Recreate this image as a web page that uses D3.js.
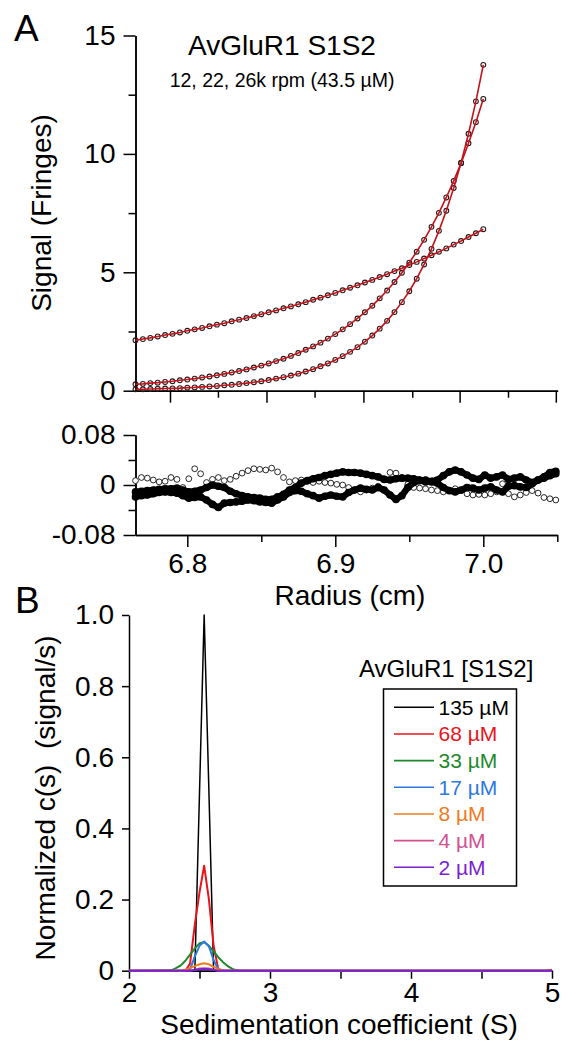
<!DOCTYPE html>
<html><head><meta charset="utf-8">
<script src="https://cdn.jsdelivr.net/npm/d3@7"></script>
<style>
html,body{margin:0;padding:0;background:#fff;}
svg{display:block;font-family:"Liberation Sans",Arial,Helvetica,sans-serif;}
</style></head>
<body><svg id="c" width="577" height="1048"></svg>
<script>
// ---------- Panel A: equilibrium data (signal in fringes vs radius) ----------
const radiusTop = d3.range(48).map(i => 6.765 + 0.005 * i);
const signal12k = [2.13,2.18,2.23,2.29,2.35,2.40,2.46,2.53,2.59,2.65,2.72,2.79,2.85,2.93,3.00,3.07,3.15,3.23,3.31,3.39,3.48,3.56,3.65,3.74,3.84,3.93,4.03,4.13,4.24,4.35,4.45,4.57,4.68,4.80,4.92,5.05,5.17,5.31,5.44,5.58,5.72,5.87,6.01,6.17,6.32,6.49,6.65,6.82];
const signal22k = [0.27,0.29,0.32,0.34,0.37,0.40,0.44,0.47,0.51,0.56,0.60,0.65,0.71,0.77,0.83,0.90,0.98,1.06,1.15,1.25,1.35,1.47,1.59,1.73,1.87,2.03,2.20,2.39,2.59,2.81,3.05,3.31,3.59,3.90,4.23,4.59,4.98,5.41,5.87,6.37,6.92,7.51,8.16,8.86,9.61,10.45,11.34,12.32];
const signal26k = [0.06,0.06,0.07,0.08,0.09,0.10,0.11,0.13,0.14,0.16,0.18,0.20,0.23,0.25,0.28,0.32,0.36,0.40,0.45,0.51,0.57,0.64,0.72,0.81,0.91,1.03,1.15,1.30,1.46,1.64,1.84,2.07,2.33,2.62,2.95,3.32,3.74,4.20,4.73,5.33,5.99,6.75,7.60,8.56,9.63,10.85,12.22,13.76];
const topXTicks = [6.7883,6.8207,6.8535,6.886,6.919,6.952,6.984,7.0167,7.049];
const topYTicks = [0,5,10,15];
const topYMinor = [2.5,7.5,12.5];

// ---------- Panel A: residuals ----------
const radiusRes = d3.range(72).map(i => 6.765 + 0.004 * i);
const residOpen = [0.007,0.012,0.011,0.008,0.005,0.006,0.012,0.009,-0.004,0.010,0.026,0.018,0.004,0.009,0.012,0.007,0.009,0.014,0.019,0.023,0.026,0.025,0.024,0.027,0.021,0.012,0.005,0.007,0.008,0.006,0.004,0.006,0.004,0.003,0.001,0.000,-0.004,-0.008,-0.011,-0.008,-0.005,-0.002,0.010,0.020,0.019,0.012,0.001,-0.004,-0.005,-0.006,-0.008,-0.009,-0.011,-0.009,-0.006,-0.009,-0.014,-0.016,-0.015,-0.016,-0.014,-0.011,0.002,-0.014,-0.019,-0.016,-0.012,-0.009,-0.013,-0.020,-0.022,-0.024];
const residFilledA = [-0.011,-0.010,-0.009,-0.008,-0.007,-0.006,-0.006,-0.005,-0.008,-0.011,-0.010,-0.008,-0.004,0.000,-0.002,-0.004,-0.010,-0.014,-0.017,-0.019,-0.020,-0.021,-0.023,-0.023,-0.019,-0.015,-0.008,-0.004,0.003,0.007,0.010,0.012,0.015,0.017,0.019,0.021,0.020,0.020,0.019,0.017,0.015,0.013,0.009,0.008,0.010,0.011,0.011,0.010,0.008,0.005,0.006,0.008,0.015,0.021,0.024,0.021,0.016,0.011,0.009,0.016,0.011,0.013,0.016,0.009,0.011,0.013,0.008,0.004,0.008,0.013,0.020,0.022];
const residFilledB = [-0.019,-0.017,-0.016,-0.014,-0.012,-0.011,-0.012,-0.013,-0.017,-0.021,-0.020,-0.019,-0.024,-0.031,-0.036,-0.029,-0.028,-0.027,-0.026,-0.024,-0.025,-0.027,-0.028,-0.029,-0.024,-0.019,-0.012,-0.009,-0.010,-0.014,-0.017,-0.021,-0.018,-0.016,-0.018,-0.019,-0.012,-0.008,-0.005,-0.007,-0.008,-0.004,-0.008,-0.016,-0.023,-0.017,-0.004,0.004,0.007,0.008,0.005,0.003,-0.004,-0.009,-0.011,-0.008,-0.004,-0.005,-0.008,-0.005,-0.003,-0.008,-0.011,-0.002,-0.001,-0.003,-0.004,0.002,0.008,0.011,0.015,0.018];
const resXMajor = [6.8,6.9,7.0];
const resXMinor = [6.85,6.95,7.05];
const resYMajor = [-0.08,0,0.08];
const resYMinor = [-0.04,0.04];

// ---------- Panel B: c(s) distributions ----------
const sValues = [2.0,2.3,2.333,2.367,2.4,2.433,2.467,2.5,2.533,2.567,2.6,2.633,2.667,2.7,2.733,2.767,2.8,4.967,5.0];
const concLabels = ["135 µM","68 µM","33 µM","17 µM","8 µM","4 µM","2 µM"];
const concColors = ["#000000","#e8141c","#1c8a2c","#2e78e0","#f07a1e","#d2508e","#7a1fd2"];
const cs135 = [0,0,0,0,0,0,0,0.50,1.00,0.50,0,0,0,0,0,0,0,0,0];
const cs68  = [0,0,0,0,0,0.02,0.13,0.22,0.295,0.20,0.07,0.005,0,0,0,0,0,0,0.003];
const cs33  = [0,0.001,0.007,0.015,0.028,0.045,0.063,0.077,0.080,0.070,0.054,0.038,0.024,0.013,0.005,0.001,0,0,0];
const cs17  = [0,0,0,0,0,0.004,0.040,0.070,0.082,0.068,0.030,0.004,0,0,0,0,0,0,0];
const cs8   = [0,0,0,0,0.003,0.008,0.013,0.018,0.021,0.018,0.011,0.005,0.001,0,0,0,0,0,0];
const cs4   = [0,0,0,0,0,0,0.003,0.006,0.007,0.006,0.003,0,0,0,0,0,0,0,0];
const cs2   = [0,0,0,0,0,0,0.002,0.004,0.005,0.004,0.002,0,0,0,0,0,0,0,0];
const bXMajor = [2,3,4,5];
const bXMinor = [2.5,3.5,4.5];
const bYTicks = [0,0.2,0.4,0.6,0.8,1.0];

// ---------- drawing ----------
const svg = d3.select("#c");
const FS = 28;
const axisStyle = (g, fs) => {
  g.select(".domain").attr("stroke","#000").attr("stroke-width",1.5);
  g.selectAll(".tick line").attr("stroke","#000").attr("stroke-width",1.5);
  g.selectAll(".tick text").attr("fill","#000").style("font-size",(fs||FS)+"px")
   .style("font-family",'"Liberation Sans",Arial,Helvetica,sans-serif');
};
const numFmt = d => d === 0 ? "0" : (d < 0 ? "-" : "") + d3.format(Math.abs(d) < 0.1 ? ".2f" : ".1f")(Math.abs(d));

// scales
const xR = d3.scaleLinear().domain([6.765,7.05]).range([135.5,557.3]);
const yTop = d3.scaleLinear().domain([0,15]).range([390.7,35.5]);
const yRes = d3.scaleLinear().domain([-0.08,0.08]).range([535,435]);
const xB = d3.scaleLinear().domain([2,5]).range([129,552]);
const yB = d3.scaleLinear().domain([0,1]).range([970.7,615]);

// Panel labels
svg.append("text").attr("x",14).attr("y",41).style("font-size","37px").text("A");
svg.append("text").attr("x",15).attr("y",613).style("font-size","37px").text("B");

// ----- Top panel -----
svg.append("g").attr("transform","translate(0,390.7)")
  .call(d3.axisBottom(xR).tickValues(topXTicks.filter((d,i)=>i%2===1)).tickSize(7).tickFormat("").tickSizeOuter(0))
  .call(g=>axisStyle(g));
svg.append("g").attr("transform","translate(0,390.7)")
  .call(d3.axisBottom(xR).tickValues(topXTicks.filter((d,i)=>i%2===0)).tickSize(12).tickFormat("").tickSizeOuter(0))
  .call(g=>axisStyle(g)).call(g=>g.select(".domain").attr("d",`M${xR.range()[0]},0.5H${xR.range()[1]+1}`));
svg.append("g").attr("transform","translate(135.5,0)")
  .call(d3.axisLeft(yTop).tickValues(topYMinor).tickSize(7).tickFormat("").tickSizeOuter(0))
  .call(g=>axisStyle(g));
svg.append("g").attr("transform","translate(135.5,0)")
  .call(d3.axisLeft(yTop).tickValues(topYTicks).tickSize(12).tickPadding(8).tickSizeOuter(0).tickFormat(d3.format("d")))
  .call(g=>axisStyle(g));

svg.append("text").attr("x",282).attr("y",55).attr("text-anchor","middle").style("font-size","28px").text("AvGluR1 S1S2");
svg.append("text").attr("x",282).attr("y",87).attr("text-anchor","middle").style("font-size","19.5px").text("12, 22, 26k rpm (43.5 µM)");
svg.append("text").attr("transform","translate(51,213) rotate(-90)").attr("text-anchor","middle").style("font-size",FS+"px").text("Signal (Fringes)");

const topSeries = [signal12k, signal22k, signal26k];
const lineTop = d3.line().x(d=>xR(d[0])).y(d=>yTop(d[1]));
topSeries.forEach(vals => {
  const pts = radiusTop.map((r,i)=>[r,vals[i]]);
  svg.append("g").selectAll("circle").data(pts).join("circle")
    .attr("cx",d=>xR(d[0])).attr("cy",d=>yTop(d[1])).attr("r",2.4)
    .attr("fill","none").attr("stroke","#2a1818").attr("stroke-width",1.1);
});
topSeries.forEach(vals => {
  const pts = radiusTop.map((r,i)=>[r,vals[i]]);
  svg.append("path").datum(pts).attr("d",lineTop).attr("fill","none")
    .attr("stroke","#c4121a").attr("stroke-width",1.6);
});

// ----- Residual panel -----
svg.append("g").attr("transform","translate(0,535)")
  .call(d3.axisBottom(xR).tickValues(resXMinor).tickSize(7).tickFormat("").tickSizeOuter(0))
  .call(g=>axisStyle(g));
svg.append("g").attr("transform","translate(0,535)")
  .call(d3.axisBottom(xR).tickValues(resXMajor).tickSize(12).tickPadding(6).tickSizeOuter(0).tickFormat(d3.format(".1f")))
  .call(g=>axisStyle(g));
svg.append("g").attr("transform","translate(135.5,0)")
  .call(d3.axisLeft(yRes).tickValues(resYMinor).tickSize(7).tickFormat("").tickSizeOuter(0))
  .call(g=>axisStyle(g));
svg.append("g").attr("transform","translate(135.5,0)")
  .call(d3.axisLeft(yRes).tickValues(resYMajor).tickSize(12).tickPadding(8).tickSizeOuter(0).tickFormat(numFmt))
  .call(g=>axisStyle(g));
svg.append("text").attr("x",350).attr("y",605).attr("text-anchor","middle").style("font-size",FS+"px").text("Radius (cm)");

const openPts = radiusRes.map((r,i)=>[r,residOpen[i]]);
svg.append("g").selectAll("circle").data(openPts).join("circle")
  .attr("cx",d=>xR(d[0])).attr("cy",d=>yRes(d[1])).attr("r",2.9)
  .attr("fill","#fff").attr("stroke","#111").attr("stroke-width",0.9);
const lineRes = d3.line().x(d=>xR(d[0])).y(d=>yRes(d[1]));
[residFilledA, residFilledB].forEach(vals => {
  const pts = radiusRes.map((r,i)=>[r,vals[i]]);
  svg.append("path").datum(pts).attr("d",lineRes).attr("fill","none")
    .attr("stroke","#000").attr("stroke-width",6.5).attr("stroke-linejoin","round").attr("stroke-linecap","round");
  svg.append("g").selectAll("circle").data(pts).join("circle")
    .attr("cx",d=>xR(d[0])).attr("cy",d=>yRes(d[1])).attr("r",3.8).attr("fill","#000");
});

// ----- Panel B -----
svg.append("g").attr("transform","translate(0,970.7)")
  .call(d3.axisBottom(xB).tickValues(bXMinor).tickSize(8).tickFormat("").tickSizeOuter(0))
  .call(g=>axisStyle(g));
svg.append("g").attr("transform","translate(0,970.7)")
  .call(d3.axisBottom(xB).tickValues(bXMajor).tickSize(8).tickPadding(3).tickSizeOuter(0).tickFormat(d3.format("d")))
  .call(g=>axisStyle(g));
svg.append("g").attr("transform","translate(129,0)")
  .call(d3.axisLeft(yB).tickValues(bYTicks).tickSize(7).tickPadding(8).tickSizeOuter(0).tickFormat(numFmt))
  .call(g=>axisStyle(g));
svg.append("text").attr("x",339).attr("y",1034).attr("text-anchor","middle").style("font-size",FS+"px").text("Sedimentation coefficient (S)");
svg.append("text").attr("transform","translate(55,798) rotate(-90)").attr("text-anchor","middle")
  .attr("xml:space","preserve").style("white-space","pre").style("font-size",FS+"px").text("Normalized c(s)  (signal/s)");

const csSeries = [cs135, cs68, cs33, cs17, cs8, cs4, cs2];
const lineB = d3.line().x(d=>xB(d[0])).y(d=>yB(d[1]));
csSeries.forEach((vals,k) => {
  const pts = sValues.map((s,i)=>[s,vals[i]]);
  svg.append("path").datum(pts).attr("d",lineB).attr("fill","none")
    .attr("stroke",concColors[k]).attr("stroke-width",k===0?1.5:2).attr("stroke-linejoin","round");
});

// legend
svg.append("text").attr("x",359).attr("y",677).style("font-size","24px").text("AvGluR1 [S1S2]");
svg.append("rect").attr("x",383.5).attr("y",689).attr("width",133).attr("height",197)
  .attr("fill","#fff").attr("stroke","#000").attr("stroke-width",1.5);
const leg = svg.append("g").selectAll("g").data(concLabels).join("g")
  .attr("transform",(d,i)=>`translate(0,${707.3 + i*26.67})`);
leg.append("line").attr("x1",394).attr("x2",434).attr("y1",0).attr("y2",0)
  .attr("stroke",(d,i)=>concColors[i]).attr("stroke-width",1.6);
leg.append("text").attr("x",438.5).attr("y",7.5).style("font-size","21px")
  .attr("fill",(d,i)=>concColors[i]).text(d=>d);
</script></body></html>
